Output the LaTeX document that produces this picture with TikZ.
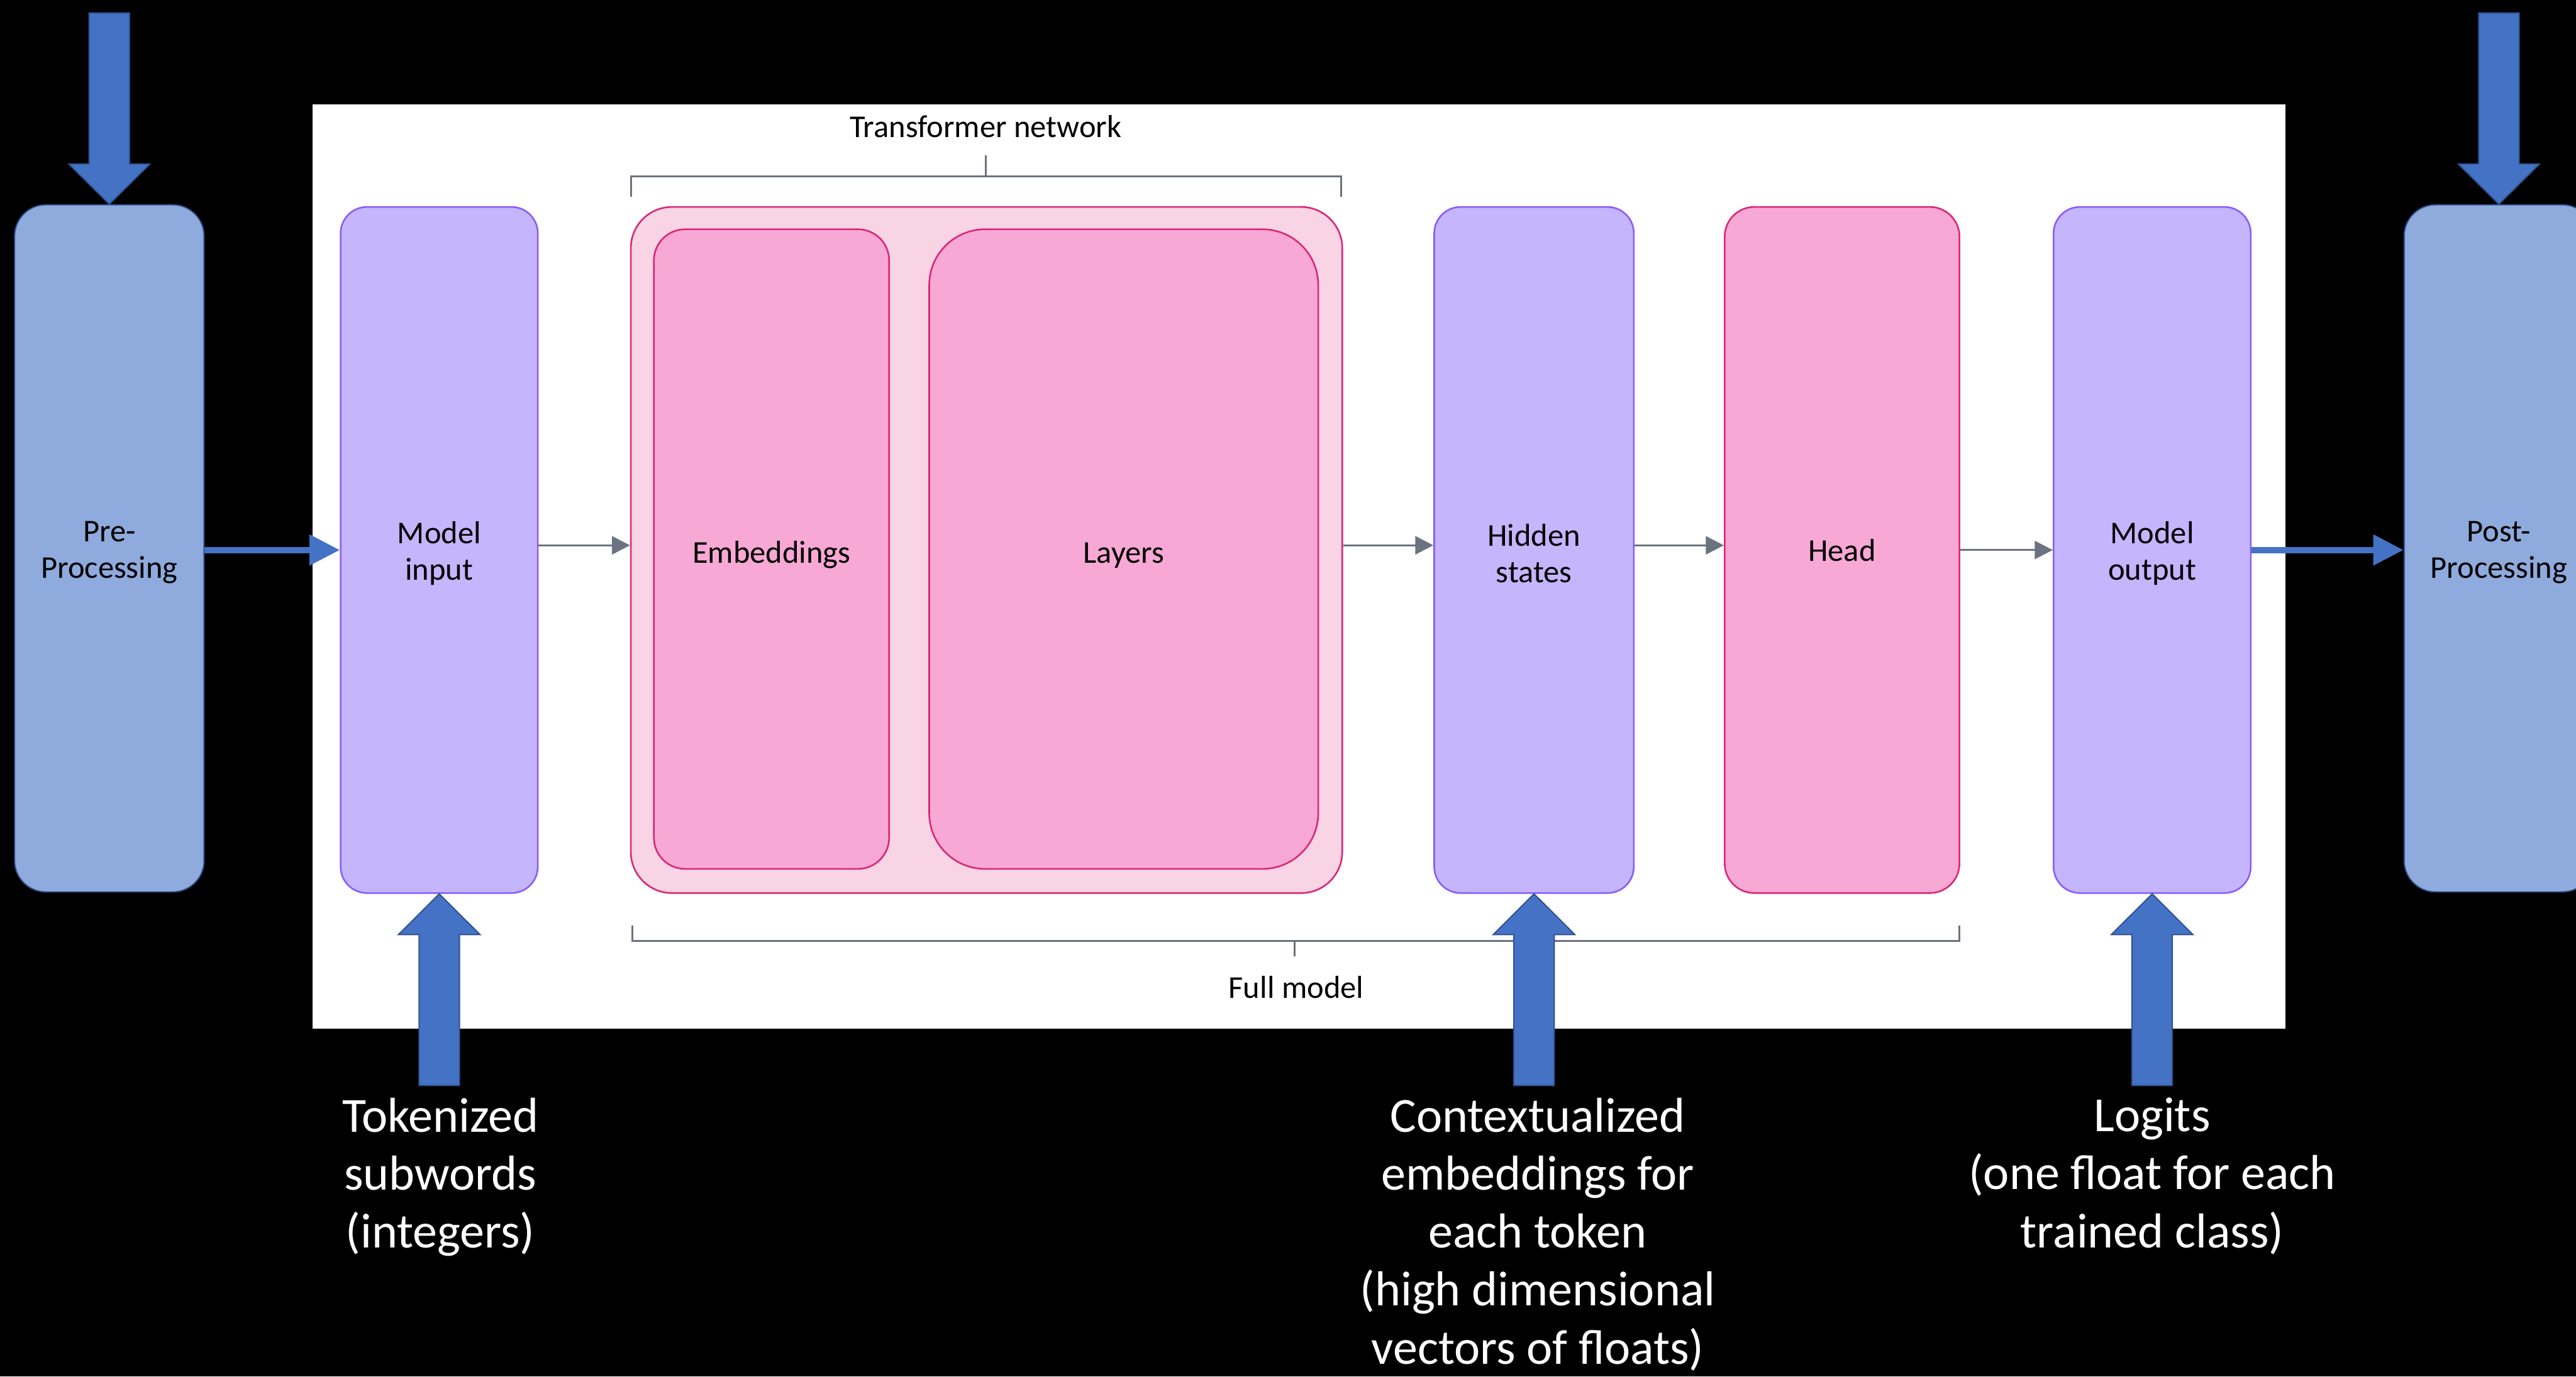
\documentclass[tikz,border=0pt]{standalone}
\usepackage{fontspec}
\setmainfont{Carlito}
\usetikzlibrary{arrows.meta,calc}

\definecolor{blockblue}{HTML}{4472C4}
\definecolor{blockedge}{HTML}{2F528F}
\definecolor{stageblue}{HTML}{8FAADC}
\definecolor{tensorfill}{HTML}{C4B5FC}
\definecolor{tensoredge}{HTML}{8B5CF6}
\definecolor{netfill}{HTML}{F8D4E5}
\definecolor{modfill}{HTML}{F8A8D4}
\definecolor{modedge}{HTML}{DB2777}
\definecolor{flowgray}{HTML}{6B7280}

\begin{document}
\begin{tikzpicture}[x=0.2mm,y=-0.2mm,
  boxtext/.style={align=center,inner sep=0pt,font=\fontsize{11}{12.6}\selectfont},
  stage/.style={draw=blockedge,fill=stageblue,line width=0.15mm,inner sep=0pt,
    rounded corners=3.8mm,minimum width=23.06mm,minimum height=83.66mm},
  tensor/.style={draw=tensoredge,fill=tensorfill,line width=0.2mm,inner sep=0pt,
    rounded corners=3.2mm,minimum width=24mm,minimum height=83.54mm},
  module/.style={boxtext,draw=modedge,fill=modfill,line width=0.2mm,
    text height=7.8pt,text depth=0pt},
  netbox/.style={draw=modedge,fill=netfill,line width=0.2mm,rounded corners=5mm,
    minimum width=86.6mm,minimum height=83.54mm,inner sep=0pt},
  flow/.style={draw=flowgray,line width=0.25mm,-{Triangle[length=2.2mm,width=2.2mm]}},
  feed/.style={draw=blockblue,line width=0.76mm,-{Triangle[length=3.7mm,width=3.6mm]}},
  blockarrow/.style={fill=blockblue,draw=blockedge,line width=0.15mm,line join=miter},
  brace/.style={draw=flowgray,line width=0.25mm},
  panelnote/.style={inner sep=0pt,font=\fontsize{11}{12.6}\selectfont},
  caption/.style={text=white,align=center,inner sep=0pt,anchor=north,
    font=\fontsize{17}{20.1}\selectfont}]

% canvas
\useasboundingbox (0,0) rectangle (1568,838);
\clip (0,0) rectangle (1568,838);
\fill[black] (0,0) rectangle (1568,838);
\fill[white] (190.2,63.4) rectangle (1391,626.4);

% pipeline stages outside the model
\node[stage] (pre)  at (66.55,333.85)  {};
\node[boxtext] (pre-text) at ([yshift=-0.5mm]pre.center) {Pre-\\Processing};
\node[stage] (post) at (1521.05,333.85) {};
\node[boxtext] (post-text) at ([yshift=-0.5mm]post.center) {Post-\\Processing};

% model blocks
\node[tensor] (mi) at (267.35,334.85) {};
\node[boxtext] (mi-text) at ([yshift=-0.4mm]mi.center) {Model\\input};
\node[netbox] (tn) at (600.5,334.85) {};
\node[module,minimum width=28.64mm,minimum height=77.88mm,rounded corners=3.8mm,
  text height=9.6pt] (emb) at (469.6,334.3) {Embeddings};
\node[module,minimum width=47.36mm,minimum height=77.88mm,rounded corners=6.8mm,
  text height=9.6pt] (lay) at (684,334.3) {Layers};
\node[tensor,minimum width=24.3mm] (hid) at (933.75,334.85) {};
\node[boxtext] (hid-text) at ([yshift=-0.4mm]hid.center) {Hidden\\states};
\node[module,minimum width=28.58mm,minimum height=83.54mm,rounded corners=3.6mm]
  (head) at (1121.25,334.85) {Head};
\node[tensor] (mo) at (1310,334.85) {};
\node[boxtext] (mo-text) at ([yshift=-0.4mm]mo.center) {Model\\output};

% braces and their labels
\draw[brace] (384.2,120) -- (384.2,107.5) -- (816.4,107.5) -- (816.4,120)
             (600,107.5) -- (600,94.4);
\node[panelnote] (tnlabel) at (600,77) {Transformer network};
\draw[brace] (385,563.5) -- (385,572.9) -- (1192.5,572.9) -- (1192.5,563.5)
             (788,572.9) -- (788,582.2);
\node[panelnote] (fmlabel) at (789,601.2) {Full model};

% data flow through the model
\draw[flow] ([yshift=0.57mm]mi.east) -- ([yshift=0.57mm]tn.west);
\draw[flow] ([yshift=0.57mm]tn.east) -- ([yshift=0.57mm]hid.west);
\draw[flow] ([yshift=0.57mm]hid.east) -- ([yshift=0.57mm]head.west);
\draw[flow] (head.east) -- (mo.west);

% hand-over to and from the model
\draw[feed] (mi.west -| pre.east) -- (mi.west);
\draw[feed] (mo.east) -- (mo.east -| post.west);

% block arrows into the outer stages
\draw[blockarrow] (pre.north) -- ++(-24.75,-24.5) -- ++(12.45,0) -- ++(0,-91.9)
  -- ++(24.6,0) -- ++(0,91.9) -- ++(12.45,0) -- cycle;
\draw[blockarrow] (post.north) -- ++(-24.75,-24.5) -- ++(12.45,0) -- ++(0,-91.9)
  -- ++(24.6,0) -- ++(0,91.9) -- ++(12.45,0) -- cycle;

% block arrows pointing at the tensors
\draw[blockarrow] (mi.south) -- ++(-24.85,24.8) -- ++(12.55,0) -- ++(0,91.9)
  -- ++(24.6,0) -- ++(0,-91.9) -- ++(12.55,0) -- cycle;
\draw[blockarrow] (hid.south) -- ++(-24.85,24.8) -- ++(12.55,0) -- ++(0,91.9)
  -- ++(24.6,0) -- ++(0,-91.9) -- ++(12.55,0) -- cycle;
\draw[blockarrow] (mo.south) -- ++(-24.85,24.8) -- ++(12.55,0) -- ++(0,91.9)
  -- ++(24.6,0) -- ++(0,-91.9) -- ++(12.55,0) -- cycle;

% captions
\node[caption] (tok) at (268,668) {Tokenized\\subwords\\(integers)};
\node[caption] (ctx) at (936,668) {Contextualized\\embeddings for\\each token\\(high dimensional\\vectors of floats)};
\node[caption] (lgt) at (1310,668) {Logits\\(one float for each\\trained class)};
\end{tikzpicture}
\end{document}
